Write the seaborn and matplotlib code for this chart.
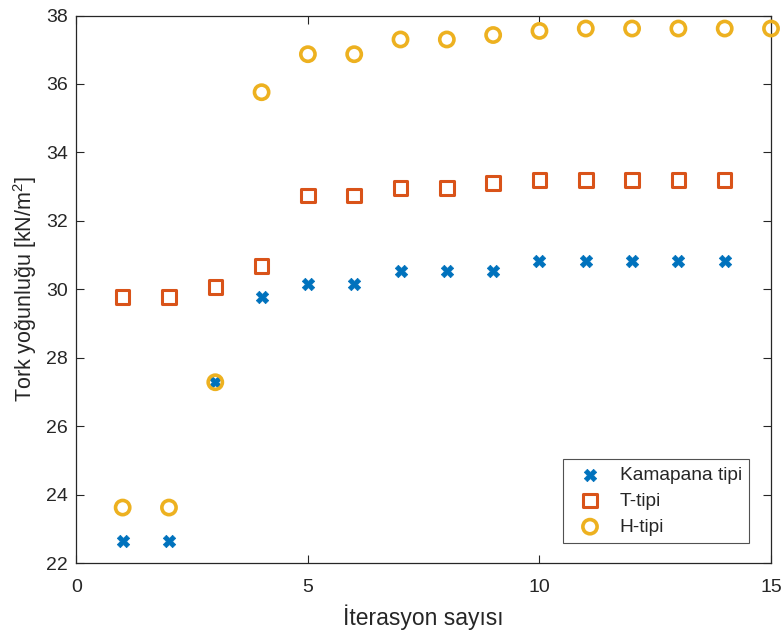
import matplotlib
matplotlib.use("Agg")
import matplotlib.pyplot as plt
import seaborn as sns
import pandas as pd

# iteration numbers
iter_k = [1, 2, 3, 4, 5, 6, 7, 8, 9, 10, 11, 12, 13, 14]
iter_t = [1, 2, 3, 4, 5, 6, 7, 8, 9, 10, 11, 12, 13, 14]
iter_h = [1, 2, 3, 4, 5, 6, 7, 8, 9, 10, 11, 12, 13, 14, 15]

# torque density [kN/m^2]
kamapana = [22.66, 22.66, 27.29, 29.78, 30.15, 30.15, 30.55, 30.55, 30.55,
            30.83, 30.83, 30.83, 30.83, 30.83]
t_tipi = [29.78, 29.78, 30.07, 30.69, 32.74, 32.74, 32.97, 32.97, 33.11,
          33.19, 33.19, 33.19, 33.19, 33.19]
h_tipi = [23.63, 23.63, 27.29, 35.76, 36.87, 36.87, 37.30, 37.30, 37.43,
          37.55, 37.62, 37.62, 37.62, 37.62, 37.62]

labels = ["Kamapana tipi", "T-tipi", "H-tipi"]
colors = ["#0072BD", "#D95319", "#EDB120"]

sns.set_style("white")
plt.rcParams['font.family'] = ['Liberation Sans', 'DejaVu Sans']
plt.rcParams['mathtext.default'] = 'regular'

fig = plt.figure(figsize=(7.83, 6.33), dpi=100)
ax = fig.add_axes([0.0975, 0.110, 0.8872, 0.8655])

df_k = pd.DataFrame({"x": iter_k, "y": kamapana})
df_t = pd.DataFrame({"x": iter_t, "y": t_tipi})
df_h = pd.DataFrame({"x": iter_h, "y": h_tipi})

sns.scatterplot(data=df_k, x="x", y="y", ax=ax, marker="X", s=80,
                color=colors[0], edgecolor=colors[0], linewidth=0.5,
                label=labels[0], clip_on=False, zorder=3)
sns.scatterplot(data=df_t, x="x", y="y", ax=ax, marker="s", s=95,
                facecolor="none", edgecolor=colors[1], linewidth=2.2,
                label=labels[1], clip_on=False, zorder=3)
sns.scatterplot(data=df_h, x="x", y="y", ax=ax, marker="o", s=105,
                facecolor="none", edgecolor=colors[2], linewidth=2.6,
                label=labels[2], clip_on=False, zorder=3)

ax.set_xlim(0, 15)
ax.set_ylim(22, 38)
ax.set_xticks([0, 5, 10, 15])
ax.set_yticks(range(22, 39, 2))

ax.set_xlabel("İterasyon sayısı", fontsize=16.5, color="#262626", labelpad=6)
ax.set_ylabel("Tork yoğunluğu [kN/m$^2$]", fontsize=15.5, color="#262626",
              labelpad=5)

ax.tick_params(direction="in", length=6, width=0.8, colors="#262626",
               labelsize=14, top=True, right=True, bottom=True, left=True)
ax.tick_params(axis="x", pad=11)
ax.tick_params(axis="y", pad=6)
for sp in ax.spines.values():
    sp.set_color("#262626")
    sp.set_linewidth(0.9)

leg = ax.legend(loc="lower right", bbox_to_anchor=(0.969, 0.0365),
                borderaxespad=0, fancybox=False, fontsize=13.8,
                handletextpad=0.55, labelspacing=0.45, borderpad=0.4)
leg.get_frame().set_edgecolor("#262626")
leg.get_frame().set_linewidth(0.8)

fig.savefig("out.png", dpi=100)
